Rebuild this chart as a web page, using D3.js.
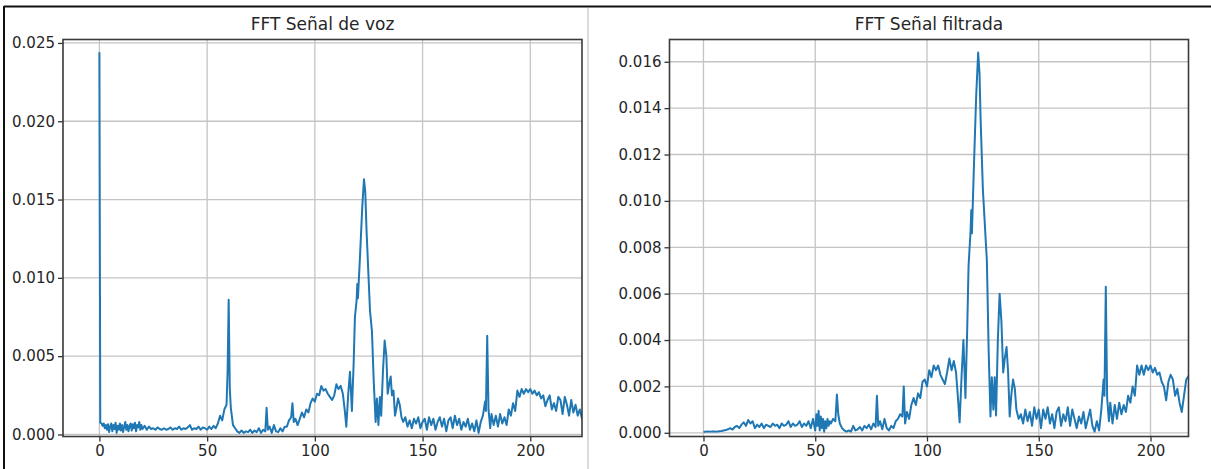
<!DOCTYPE html>
<html>
<head>
<meta charset="utf-8">
<script src="https://cdn.jsdelivr.net/npm/d3@7"></script>
<style>
  html, body { margin: 0; padding: 0; background: #ffffff; }
  svg { display: block; }
  text { font-family: "DejaVu Sans", sans-serif; fill: #262626; }
</style>
</head>
<body>
<svg id="fig" width="1211" height="469"></svg>
<script>
// Magnitudes are stored in units of 1e-3 and scaled when plotted.
const MAG_UNIT = 1e-3;

// FFT of the raw voice signal: frequency and magnitude
const freqVoz = [
  0, 0.4, 1, 1.5, 2, 2.5, 3, 3.5, 4, 4.5, 5, 5.5, 6, 6.5, 7, 7.5, 8, 8.5, 9, 9.5,
  10, 10.5, 11, 11.5, 12, 12.5, 13, 13.5, 14, 14.5, 15, 15.5, 16, 16.5, 17, 17.5, 18, 18.5, 19, 19.5,
  20, 21, 22, 23, 24, 25, 26, 27, 28, 29, 30, 31, 32, 33, 34, 35, 36, 37, 38, 39,
  40, 41, 42, 43, 44, 45, 46, 47, 48, 49, 50, 51, 52, 53, 54, 55, 56, 57, 58, 59,
  59.5, 60, 60.5, 61, 62, 63, 64, 65, 66, 67, 68, 69, 70, 71, 72, 73, 74, 75, 76, 77,
  77.6, 78.2, 79, 80, 81, 82, 83, 84, 85, 86, 87, 88, 89, 89.6, 90.2, 91, 92, 93, 94, 95,
  96, 97, 98, 99, 100, 101, 102, 103, 104, 105, 106, 107, 108, 109, 110, 111, 112, 113, 114, 114.6,
  115.5, 116.3, 117.2, 118, 118.6, 119.4, 119.7, 120, 121, 122, 122.8, 123.4, 124, 125, 125.6, 126.5, 127.3, 128.2, 128.8, 129.5,
  130.2, 130.8, 131.6, 132.4, 133.2, 133.8, 134.6, 135.2, 135.8, 136.5, 137.2, 137.8, 138.6, 139.4, 140.2, 141, 142, 143, 144, 145,
  146, 147, 148, 149, 150, 151, 152, 153, 154, 155, 156, 157, 158, 159, 160, 161, 162, 163, 164, 165,
  166, 167, 168, 169, 170, 171, 172, 173, 174, 175, 176, 177, 178, 179, 179.4, 180, 180.6, 181.4, 182, 183,
  184, 185, 186, 187, 188, 189, 190, 191, 192, 193, 194, 195, 196, 197, 198, 199, 200, 201, 202, 203,
  204, 205, 206, 207, 208, 209, 210, 211, 212, 213, 214, 215, 216, 217, 218, 219, 220, 221, 222, 223,
  224, 225
];
const magVoz = [
  24.4, 0.75, 0.7, 0.55, 0.7, 0.4, 0.6, 0.3, 0.65, 0.15, 0.5, 0.7, 0.2, 0.6, 0.35, 0.75, 0.1, 0.55, 0.3, 0.7,
  0.25, 0.6, 0.15, 0.5, 0.8, 0.3, 0.6, 0.2, 0.55, 0.7, 0.25, 0.65, 0.4, 0.75, 0.2, 0.6, 0.45, 0.8, 0.3, 0.6,
  0.35, 0.55, 0.3, 0.5, 0.35, 0.4, 0.3, 0.45, 0.35, 0.3, 0.4, 0.3, 0.35, 0.45, 0.3, 0.4, 0.35, 0.5, 0.3, 0.4,
  0.35, 0.45, 0.6, 0.3, 0.4, 0.35, 0.5, 0.3, 0.45, 0.4, 0.3, 0.5, 0.35, 0.55, 0.4, 0.7, 1.2, 0.9, 1.6, 1.9,
  4.0, 8.6, 3.0, 1.7, 0.6, 0.4, 0.2, 0.1, 0.25, 0.1, 0.2, 0.15, 0.3, 0.1, 0.25, 0.15, 0.4, 0.1, 0.3, 0.2,
  1.7, 0.3, 0.5, 0.1, 0.6, 0.2, 0.15, 0.4, 0.2, 0.5, 0.5, 0.9, 1.1, 2.0, 0.8, 1.0, 0.6, 1.0, 1.4, 1.1,
  1.6, 1.4, 2.0, 2.3, 2.1, 2.6, 2.5, 3.1, 2.8, 2.9, 2.6, 2.4, 2.2, 2.5, 3.2, 2.9, 3.1, 2.6, 1.4, 0.5,
  2.6, 4.0, 1.5, 4.5, 7.5, 8.6, 9.6, 8.7, 11.5, 14.5, 16.3, 15.5, 13.0, 9.8, 7.9, 6.6, 3.5, 0.8, 2.3, 0.6,
  2.4, 1.2, 4.0, 6.0, 5.0, 2.6, 3.3, 3.7, 2.5, 2.8, 1.2, 1.6, 2.3, 1.9, 1.1, 0.8, 1.1, 0.5, 0.9, 0.4,
  1.0, 0.7, 1.1, 0.4, 0.8, 1.0, 0.3, 1.1, 0.6, 1.0, 0.3, 0.8, 1.1, 0.5, 1.0, 0.2, 0.9, 1.1, 0.4, 1.2,
  0.6, 1.0, 0.3, 0.8, 0.5, 1.0, 0.3, 0.7, 0.2, 0.9, 0.1, 0.8, 1.2, 2.1, 1.5, 6.3, 1.6, 0.4, 1.3, 0.6,
  1.2, 0.5, 1.3, 0.7, 1.1, 0.6, 1.6, 1.2, 2.0, 1.5, 2.8, 2.4, 2.9, 2.6, 2.9, 2.7, 2.9, 2.6, 2.8, 2.5,
  2.7, 2.3, 2.5, 1.8, 2.2, 2.5, 1.6, 2.0, 1.5, 2.4, 2.2, 1.3, 2.4, 1.9, 1.2, 2.2, 1.4, 1.9, 1.2, 1.6,
  1.0, 2.1
];

// FFT of the filtered signal: frequency and magnitude
const freqFilt = [
  0, 1, 2, 3, 4, 5, 6, 7, 8, 9, 10, 11, 12, 13, 14, 15, 16, 17, 18, 19,
  20, 21, 22, 23, 24, 25, 26, 27, 28, 29, 30, 31, 32, 33, 34, 35, 36, 37, 38, 39,
  40, 41, 42, 43, 44, 45, 46, 47, 48, 49, 50, 50.5, 51, 51.5, 52, 52.5, 53, 53.5, 54, 54.5,
  55, 55.5, 56, 56.5, 57, 58, 59, 59.7, 60.3, 61, 62, 63, 64, 65, 66, 67, 68, 69, 70, 71,
  72, 73, 74, 75, 76, 77, 77.6, 78.2, 79, 80, 81, 82, 83, 84, 85, 86, 87, 88, 89, 89.6,
  90.2, 91, 92, 93, 94, 95, 96, 97, 98, 99, 100, 101, 102, 103, 104, 105, 106, 107, 108, 109,
  110, 111, 112, 113, 114, 114.6, 115.5, 116.3, 117.2, 118, 118.6, 119.5, 119.8, 120.1, 121, 122, 122.9, 123.5, 124, 125,
  126.8, 127.6, 128.4, 129, 129.7, 130.3, 130.9, 131.7, 132.5, 133.3, 134.1, 134.8, 135.6, 136.3, 137, 137.7, 138.5, 139.3, 140, 141,
  142, 143, 144, 145, 146, 147, 148, 149, 150, 151, 152, 153, 154, 155, 156, 157, 158, 159, 160, 161,
  162, 163, 164, 165, 166, 167, 168, 169, 170, 171, 172, 173, 174, 175, 176, 177, 178, 179, 179.4, 180,
  180.6, 181.4, 182, 183, 184, 185, 186, 187, 188, 189, 190, 191, 192, 193, 194, 195, 196, 197, 198, 199,
  200, 201, 202, 203, 204, 205, 206, 207, 208, 209, 210, 211, 212, 213, 214, 215, 216, 217, 218
];
const magFilt = [
  0.05, 0.05, 0.06, 0.05, 0.06, 0.06, 0.05, 0.07, 0.08, 0.1, 0.12, 0.15, 0.2, 0.14, 0.25, 0.3, 0.2, 0.35, 0.45, 0.3,
  0.55, 0.4, 0.5, 0.2, 0.35, 0.25, 0.4, 0.2, 0.35, 0.3, 0.25, 0.4, 0.3, 0.35, 0.2, 0.4, 0.3, 0.35, 0.5, 0.25,
  0.4, 0.3, 0.35, 0.5, 0.25, 0.4, 0.3, 0.5, 0.2, 0.6, 0.1, 0.8, 0.3, 0.95, 0.1, 0.7, 0.2, 0.6, 0.05, 0.5,
  0.2, 0.6, 0.3, 0.5, 0.4, 0.6, 0.5, 1.65, 0.8, 0.4, 0.2, 0.1, 0.05, 0.1, 0.05, 0.3, 0.1, 0.15, 0.25, 0.1,
  0.3, 0.2, 0.35, 0.15, 0.4, 0.25, 1.6, 0.3, 0.5, 0.15, 0.6, 0.2, 0.1, 0.3, 0.2, 0.5, 0.6, 0.8, 0.7, 2.0,
  0.4, 0.9, 0.6, 1.2, 1.5, 1.2, 1.7, 1.5, 2.2, 2.3, 2.0, 2.7, 2.4, 2.9, 2.7, 2.9, 2.5, 2.3, 2.1, 2.6,
  3.2, 2.7, 3.1, 2.6, 1.3, 0.45, 2.5, 4.0, 1.5, 4.5, 7.2, 8.7, 9.6, 8.6, 11.5, 14.5, 16.4, 15.5, 13.5, 10.5,
  7.4, 3.5, 0.7, 2.4, 1.0, 2.4, 0.75, 4.0, 6.0, 4.8, 2.6, 3.2, 3.7, 2.6, 0.7, 1.6, 2.3, 1.9, 1.0, 0.6,
  0.8, 0.4, 1.0, 0.5, 0.9, 0.3, 1.1, 0.6, 1.0, 0.2, 1.0, 0.6, 1.1, 0.4, 0.8, 0.2, 0.9, 1.1, 0.3, 0.8,
  0.5, 1.1, 0.3, 1.0, 0.6, 0.2, 0.7, 0.4, 0.9, 0.2, 0.6, 1.0, 0.3, 0.05, 0.5, 0.1, 1.0, 2.3, 1.6, 6.3,
  1.5, 0.5, 1.3, 0.4, 1.2, 0.6, 1.3, 0.8, 1.2, 0.9, 1.6, 1.3, 2.0, 1.6, 2.9, 2.5, 2.9, 2.5, 2.9, 2.7,
  2.9, 2.6, 2.8, 2.5, 2.6, 2.2, 2.0, 1.4, 2.2, 2.5, 2.3, 1.6, 1.9, 1.3, 0.9, 1.6, 2.3, 2.45, 2.4
];

// Axis settings per panel
const titles = ["FFT Señal de voz", "FFT Señal filtrada"];
const xTicks = [0, 50, 100, 150, 200];
const yTicksVoz = [0, 5, 10, 15, 20, 25];
const yTicksFilt = [0, 2, 4, 6, 8, 10, 12, 14, 16];
const xDomainVoz = [-16.9, 224];
const xDomainFilt = [-15.2, 217];
const yDomainVoz = [-0.13, 25.22];
const yDomainFilt = [-0.16, 16.96];

const panels = [
  { title: titles[0], freq: freqVoz, mag: magVoz, xDomain: xDomainVoz, yDomain: yDomainVoz, yTicks: yTicksVoz,
    box: { left: 63, right: 582, top: 39.5, bottom: 436.5 } },
  { title: titles[1], freq: freqFilt, mag: magFilt, xDomain: xDomainFilt, yDomain: yDomainFilt, yTicks: yTicksFilt,
    box: { left: 669.5, right: 1188.5, top: 39.5, bottom: 436.5 } }
];

const svg = d3.select("#fig");
const fmtY = d3.format(".3f");

// Page frame lines and panel separator
svg.append("line").attr("x1", 4).attr("x2", 1211).attr("y1", 6.5).attr("y2", 6.5)
  .attr("stroke", "#111").attr("stroke-width", 2);
svg.append("line").attr("x1", 4).attr("x2", 4).attr("y1", 6).attr("y2", 469)
  .attr("stroke", "#111").attr("stroke-width", 2);
svg.append("line").attr("x1", 588).attr("x2", 588).attr("y1", 8).attr("y2", 469)
  .attr("stroke", "#dcdcdc").attr("stroke-width", 2);

panels.forEach((p, i) => {
  const b = p.box;
  const x = d3.scaleLinear().domain(p.xDomain).range([b.left, b.right]);
  const y = d3.scaleLinear().domain(p.yDomain.map(v => v * MAG_UNIT)).range([b.bottom, b.top]);

  const g = svg.append("g");
  const clipId = "clip" + i;
  svg.append("clipPath").attr("id", clipId)
    .append("rect").attr("x", b.left).attr("y", b.top)
    .attr("width", b.right - b.left).attr("height", b.bottom - b.top);

  // Grid
  const grid = g.append("g").attr("stroke", "#c4c4c4").attr("stroke-width", 1.3);
  grid.selectAll("line.gx").data(xTicks).join("line").attr("class", "gx")
    .attr("x1", d => x(d)).attr("x2", d => x(d)).attr("y1", b.top).attr("y2", b.bottom);
  grid.selectAll("line.gy").data(p.yTicks).join("line").attr("class", "gy")
    .attr("x1", b.left).attr("x2", b.right).attr("y1", d => y(d * MAG_UNIT)).attr("y2", d => y(d * MAG_UNIT));

  // Spectrum line
  const pts = p.freq.map((f, k) => [f, p.mag[k] * MAG_UNIT]);
  g.append("path").datum(pts)
    .attr("clip-path", `url(#${clipId})`)
    .attr("fill", "none").attr("stroke", "#1f77b4").attr("stroke-width", 2)
    .attr("stroke-linejoin", "round")
    .attr("d", d3.line().x(d => x(d[0])).y(d => y(d[1])));

  // Axes
  const xAxis = d3.axisBottom(x).tickValues(xTicks).tickSize(5).tickPadding(4).tickFormat(d3.format("d"));
  const yAxis = d3.axisLeft(y).tickValues(p.yTicks.map(v => v * MAG_UNIT)).tickSize(5).tickPadding(3).tickFormat(fmtY);

  const gx = g.append("g").attr("transform", `translate(0,${b.bottom})`).call(xAxis);
  const gy = g.append("g").attr("transform", `translate(${b.left},0)`).call(yAxis);
  [gx, gy].forEach(ax => {
    ax.select(".domain").remove();
    ax.selectAll(".tick line").attr("stroke", "#333").attr("stroke-width", 1.3);
    ax.selectAll(".tick text").attr("font-size", 15).attr("fill", "#2a2a2a")
      .style("font-family", "'DejaVu Sans', sans-serif");
  });

  // Frame
  g.append("rect").attr("x", b.left).attr("y", b.top)
    .attr("width", b.right - b.left).attr("height", b.bottom - b.top)
    .attr("fill", "none").attr("stroke", "#3a3a3a").attr("stroke-width", 1.6);

  // Title
  g.append("text").attr("x", (b.left + b.right) / 2).attr("y", 29.5)
    .attr("text-anchor", "middle").attr("font-size", 17).text(p.title);
});
</script>
</body>
</html>
